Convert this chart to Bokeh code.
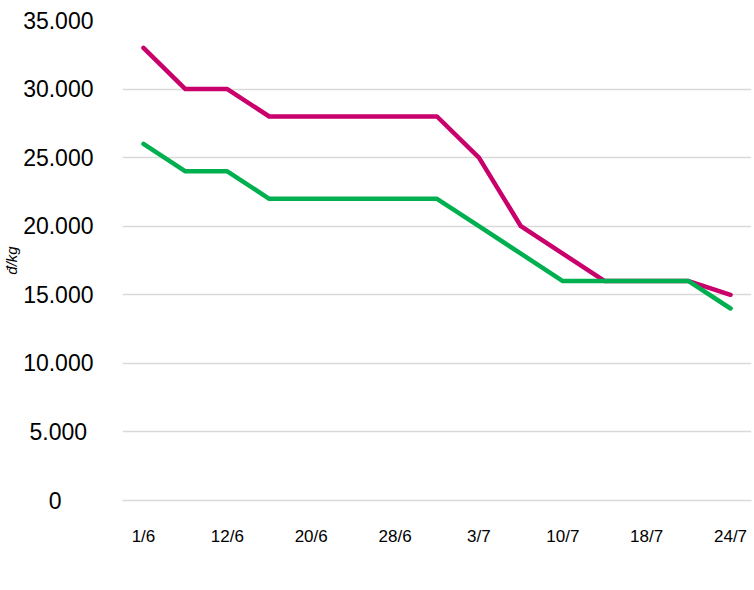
from bokeh.plotting import figure
from bokeh.models import FixedTicker, Legend, LegendItem, Range1d
from bokeh.embed import file_html
from bokeh.resources import INLINE

# ---- data ----
x_index = list(range(15))
x_tick_positions = [0, 2, 4, 6, 8, 10, 12, 14]
x_tick_labels = ["1/6", "12/6", "20/6", "28/6", "3/7", "10/7", "18/7", "24/7"]
red_name = "Thanh long ruột đỏ"
white_name = "Thanh long ruột trắng"
red_values = [33000, 30000, 30000, 28000, 28000, 28000, 28000, 28000, 25000, 20000, 18000, 16000, 16000, 16000, 15000]
white_values = [26000, 24000, 24000, 22000, 22000, 22000, 22000, 22000, 20000, 18000, 16000, 16000, 16000, 16000, 14000]
y_ticks = [0, 5000, 10000, 15000, 20000, 25000, 30000, 35000]
y_tick_labels = ["0", "5.000", "10.000", "15.000", "20.000", "25.000", "30.000", "35.000"]

RED = "#C9006B"
GREEN = "#00B050"
FONT = "Liberation Sans"

# right-padding so that the (right-aligned) y labels appear centred on one column
FIG_SP = "\u2007"   # figure space (digit width)
PUN_SP = "\u2008"   # punctuation space (period width)
pad = {6: "", 5: PUN_SP, 1: FIG_SP * 2 + PUN_SP}

p = figure(width=754, height=590, frame_width=629, frame_height=480,
           output_backend="svg", toolbar_location=None,
           x_range=Range1d(-0.5, 14.5), y_range=Range1d(0, 35000),
           min_border_left=122, min_border_right=3, min_border_top=20, min_border_bottom=60)
p.outline_line_color = None

r1 = p.line(x_index, red_values, line_color=RED, line_width=4.5, line_join="round", line_cap="round")
r2 = p.line(x_index, white_values, line_color=GREEN, line_width=4.5, line_join="round", line_cap="round")

# grid
p.xgrid.grid_line_color = None
p.ygrid.grid_line_color = "#D9D9D9"
p.ygrid.grid_line_width = 1.5
p.ygrid.ticker = FixedTicker(ticks=y_ticks)

# x axis
xa = p.xaxis[0]
xa.ticker = FixedTicker(ticks=x_tick_positions)
xa.major_label_overrides = {pos: lab for pos, lab in zip(x_tick_positions, x_tick_labels)}
xa.axis_line_color = "#D9D9D9"
xa.axis_line_width = 1.5
xa.major_tick_line_color = None
xa.minor_tick_line_color = None
xa.major_label_text_font = FONT
xa.major_label_text_font_size = "17px"
xa.major_label_text_color = "#000000"
xa.major_label_standoff = 20

# y axis
ya = p.yaxis[0]
ya.ticker = FixedTicker(ticks=y_ticks)
ya.major_label_overrides = {t: lab + pad.get(len(lab), "") for t, lab in zip(y_ticks, y_tick_labels)}
ya.axis_line_color = None
ya.major_tick_line_color = None
ya.minor_tick_line_color = None
ya.major_label_text_font = FONT
ya.major_label_text_font_size = "23px"
ya.major_label_text_color = "#000000"
ya.major_label_standoff = 23
ya.axis_label = "đ/kg"
ya.axis_label_text_font = FONT
ya.axis_label_text_font_style = "italic"
ya.axis_label_text_font_size = "15px"
ya.axis_label_text_color = "#000000"
ya.axis_label_standoff = 0

legend = Legend(items=[LegendItem(label=red_name, renderers=[r1]),
                       LegendItem(label=white_name, renderers=[r2])],
                orientation="horizontal", location="top_left",
                border_line_color=None, background_fill_alpha=0,
                label_text_font=FONT, label_text_font_size="17px",
                label_text_color="#000000",
                glyph_width=37, label_standoff=3, spacing=31,
                padding=0, margin=14)
p.add_layout(legend, "below")

open("out.html", "w").write(file_html(p, INLINE))
